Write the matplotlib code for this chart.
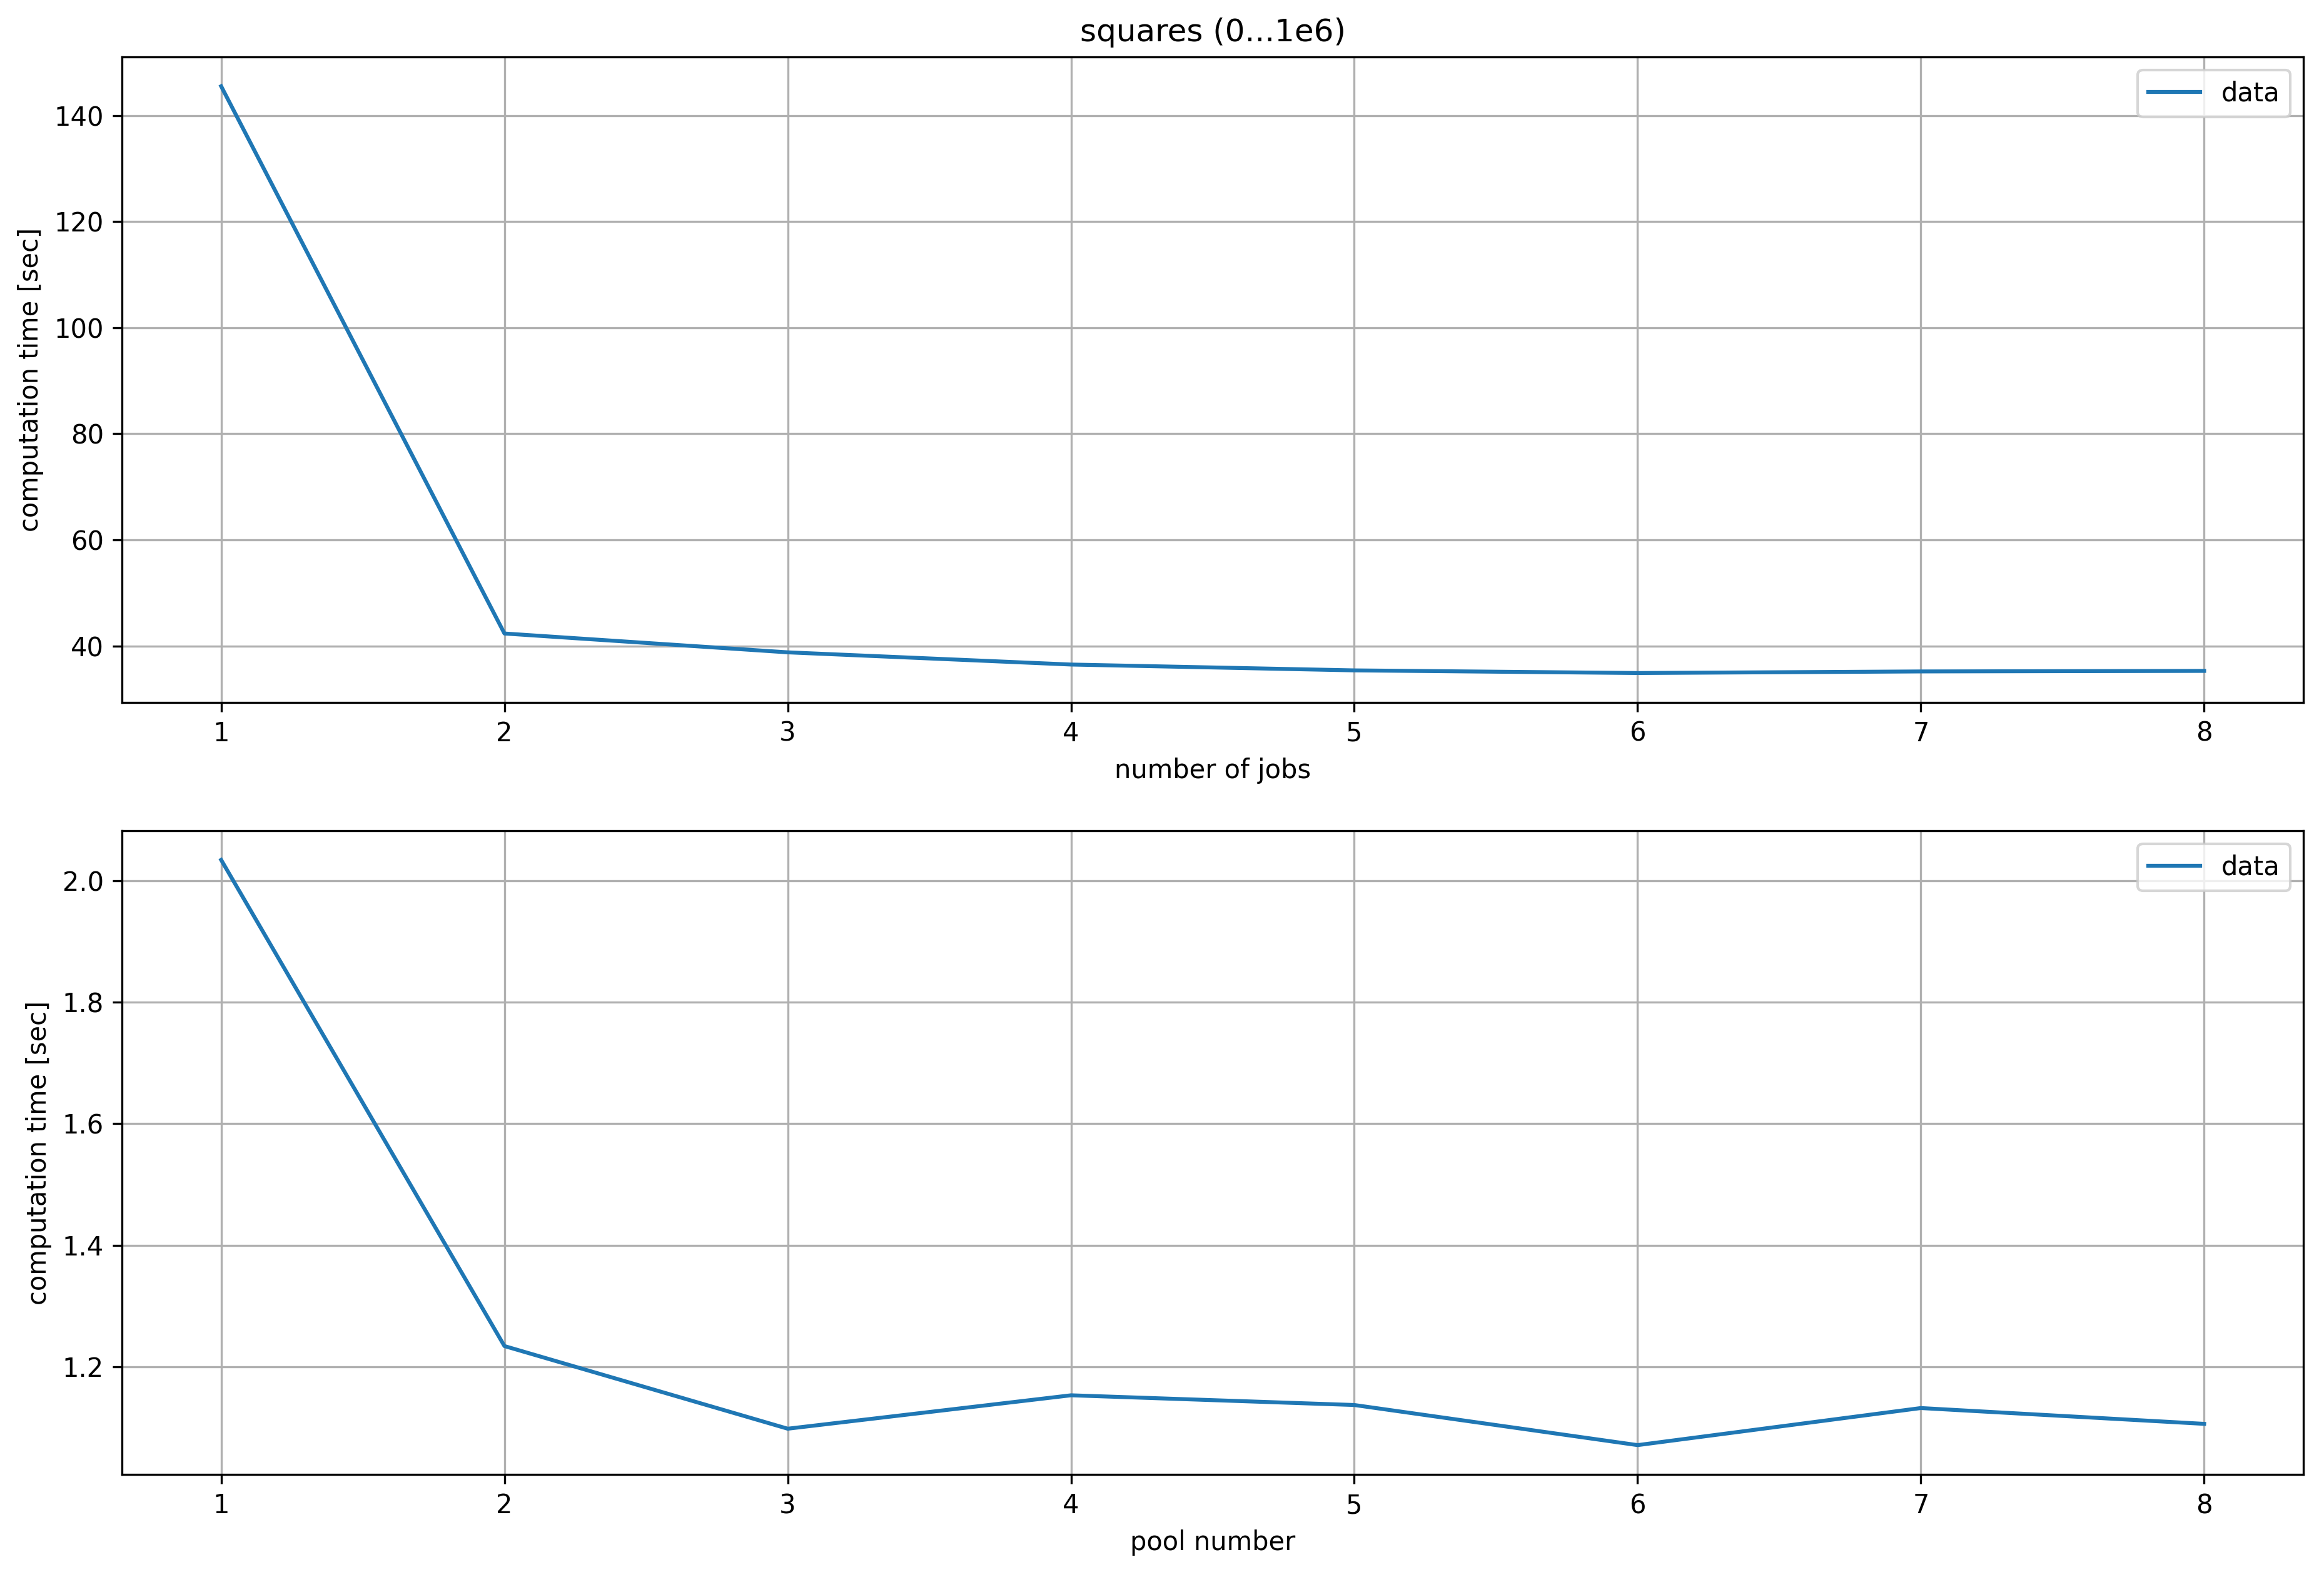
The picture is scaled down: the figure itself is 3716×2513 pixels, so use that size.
import matplotlib
matplotlib.use('Agg')
import matplotlib.pyplot as plt

## values
jobs = [1, 2, 3, 4, 5, 6, 7, 8]
jobs_time = [145.5, 42.35, 38.8, 36.5, 35.4, 34.9, 35.2, 35.3]

pools = [1, 2, 3, 4, 5, 6, 7, 8]
pool_time = [2.034, 1.234, 1.098, 1.153, 1.137, 1.071, 1.132, 1.106]

DPI = 300
fig = plt.figure(figsize=(3716 / DPI, 2513 / DPI), dpi=DPI)
ax1 = fig.add_axes([0.0525, 0.5532, 0.9386, 0.4106])
ax2 = fig.add_axes([0.0525, 0.0621, 0.9386, 0.4095])

# joblib timings
ax1.plot(jobs, jobs_time, label='data')
ax1.set_title('squares (0...1e6)')
ax1.set_xlabel('number of jobs')
ax1.set_ylabel('computation time [sec]')
ax1.grid(True)
ax1.legend(loc='upper right')

# multiprocessing pool timings
ax2.plot(pools, pool_time, label='data')
ax2.set_xlabel('pool number')
ax2.set_ylabel('computation time [sec]')
ax2.grid(True)
ax2.legend(loc='upper right')

fig.savefig('out.png', dpi=DPI)
